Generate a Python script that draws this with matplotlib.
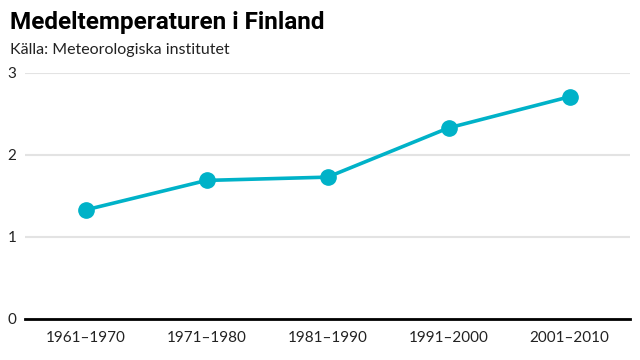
import matplotlib.pyplot as plt
import matplotlib.font_manager as fm

decades = ['1961–1970', '1971–1980', '1981–1990', '1991–2000', '2001–2010']
temps = [1.33, 1.69, 1.73, 2.33, 2.71]
yticks = [0, 1, 2, 3]

names = {f.name for f in fm.fontManager.ttflist}
title_font = 'Liberation Sans Narrow' if 'Liberation Sans Narrow' in names else 'Roboto'
plt.rcParams['font.family'] = ['Lato', 'DejaVu Sans']

fig = plt.figure(figsize=(6.4, 3.6), dpi=100)
ax = fig.add_axes([25 / 640, 1 - 319 / 360, 605 / 640, 246 / 360])

x = list(range(len(decades)))
ax.plot(x, temps, color='#00b2c8', lw=2.6, marker='o', ms=11, clip_on=False, zorder=3)

ax.set_xlim(-0.5, 4.5)
ax.set_ylim(0, 3)
ax.set_yticks(yticks)
ax.set_yticklabels([str(v) for v in yticks])
ax.set_xticks(x)
ax.set_xticklabels(decades)
ax.grid(axis='y', color='#e3e3e3', lw=1.5)
ax.set_axisbelow(True)
for s in ['top', 'right', 'left']:
    ax.spines[s].set_visible(False)
ax.spines['bottom'].set_color('black')
ax.spines['bottom'].set_linewidth(2)
ax.spines['bottom'].set_zorder(4)
ax.tick_params(axis='both', length=0, labelsize=11, colors='#222222')
ax.tick_params(axis='y', pad=6)
ax.tick_params(axis='x', pad=9)

fig.text(10 / 640, 1 - 22 / 360, 'Medeltemperaturen i Finland', family=title_font,
         weight='bold', fontsize=17.5, va='center', ha='left')
fig.text(10 / 640, 1 - 50 / 360, 'Källa: Meteorologiska institutet', fontsize=11.5,
         va='center', ha='left', color='#222222')

fig.savefig('out.png', dpi=100)
